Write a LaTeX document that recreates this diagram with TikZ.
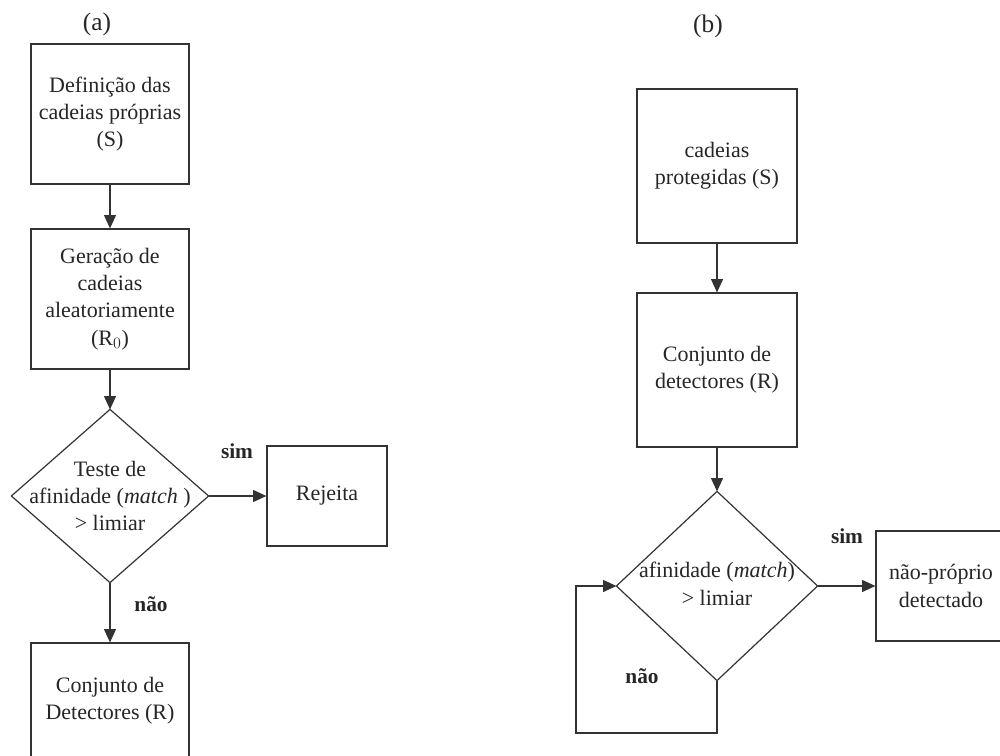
\documentclass[tikz,border=0pt]{standalone}
\usepackage{fontspec}
\setmainfont{Liberation Serif}
\usetikzlibrary{arrows.meta,shapes.geometric}
\begin{document}
\begin{tikzpicture}[x=0.75pt,y=-0.75pt,
  line width=0.9pt,
  every node/.style={font=\fontsize{16.5}{20.5}\selectfont, text=black!85},
  boxnode/.style={draw=black!80, rectangle, align=center, inner sep=0pt},
  decnode/.style={draw=black!80, diamond, inner sep=0pt, shape aspect=1},
  txtnode/.style={align=center, inner sep=0pt},
  lbl/.style={font=\fontsize{16}{19.5}\selectfont\bfseries, inner sep=0pt},
  title/.style={font=\fontsize{19}{22}\selectfont, inner sep=0pt},
  arr/.style={draw=black!80, -{Triangle[length=10pt,width=9pt]}},
  link/.style={draw=black!80}]
\clip (0,0) rectangle (1000,756);
\fill[white] (0,0) rectangle (1000,756);

% ---------- (a) ----------
\node[title] (ta) at (97,24) {(a)};
\node[boxnode, minimum width=118.5pt, minimum height=105pt] (a1) at (110,114)
  {Definição das\\cadeias próprias\\(S)};
\node[boxnode, minimum width=118.5pt, minimum height=105pt] (a2) at (110,299)
  {Geração de\\cadeias\\aleatoriamente\\(R$_0$)};
\node[decnode, draw=none, minimum width=147pt, minimum height=129pt] (a3) at (110,496) {};
\draw[black!80] (a3.north) -- (a3.east) -- (a3.south) -- (a3.west) -- cycle;
\node[txtnode] (a3t) at (110,496) {Teste de\\afinidade (\textit{match} )\\> limiar};
\node[boxnode, minimum width=90pt, minimum height=75pt] (a4) at (327,496) {Rejeita};
\node[boxnode, minimum width=118.5pt, minimum height=87pt] (a5) at (110,701)
  {Conjunto de\\Detectores (R)};
\draw[arr] (a1.south) -- (a2.north);
\draw[arr] (a2.south) -- (a3.north);
\draw[arr] (a3.east) -- (a4.west);
\draw[arr] (a3.south) -- (a5.north);
\node[lbl] (sa) at (237,451) {sim};
\node[lbl] (na) at (151,604) {não};

% ---------- (b) ----------
\node[title] (tb) at (708,26) {(b)};
\node[boxnode, minimum width=120pt, minimum height=115.5pt] (b1) at (717,166)
  {cadeias\\protegidas (S)};
\node[boxnode, minimum width=120pt, minimum height=115.5pt] (b2) at (717,370)
  {Conjunto de\\detectores (R)};
\node[decnode, draw=none, minimum width=150pt, minimum height=141pt] (b3) at (717,586) {};
\draw[black!80] (b3.north) -- (b3.east) -- (b3.south) -- (b3.west) -- cycle;
\node[txtnode] (b3t) at (717,584) {afinidade (\textit{match})\\> limiar};
\node[boxnode, minimum width=97.5pt, minimum height=82.5pt] (b4) at (941,586)
  {não-próprio\\detectado};
\coordinate (l1) at (717,733);
\coordinate (l2) at (576,733);
\coordinate (l3) at (576,586);
\draw[arr] (b1.south) -- (b2.north);
\draw[arr] (b2.south) -- (b3.north);
\draw[arr] (b3.east) -- (b4.west);
\draw[arr] (b3.south) -- (l1) -- (l2) -- (l3) -- (b3.west);
\node[lbl] (sb) at (847,536) {sim};
\node[lbl] (nb) at (642,676) {não};
\end{tikzpicture}
\end{document}
